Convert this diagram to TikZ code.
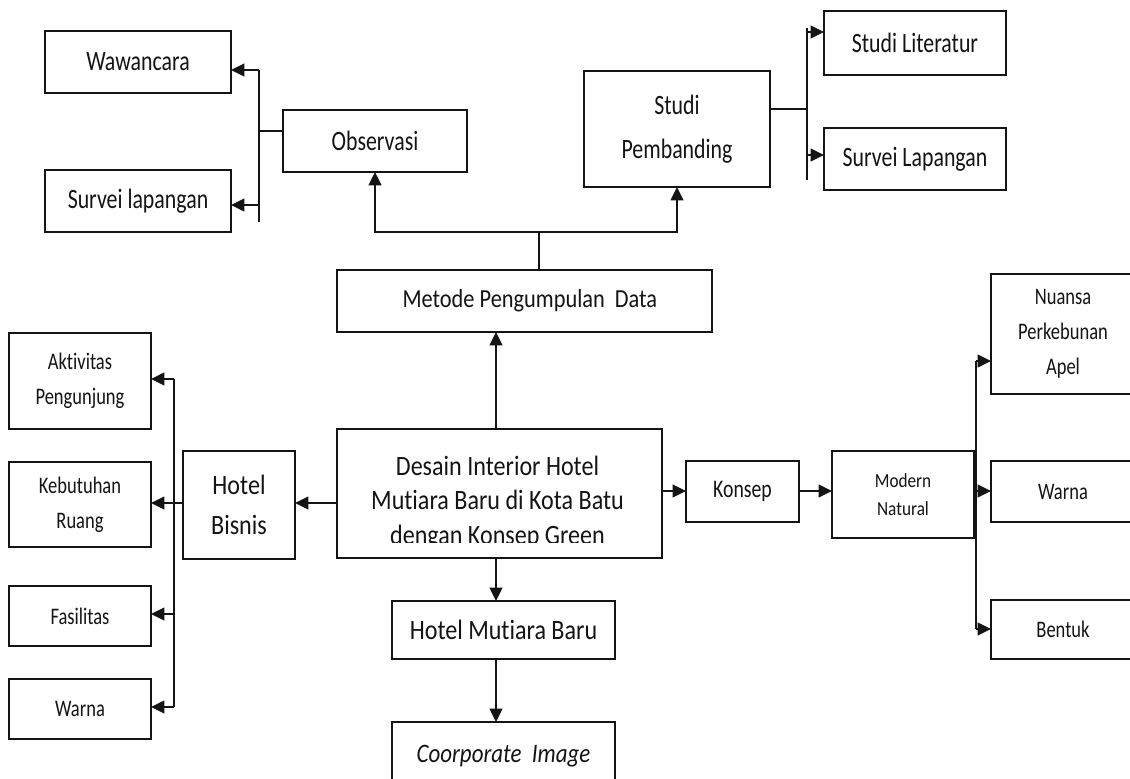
\documentclass[tikz,border=0pt]{standalone}
\usepackage{fontspec}
\setmainfont{Carlito}[RawFeature=-liga]
\newfontfamily\fA[FakeStretch=0.78,RawFeature=-liga]{Carlito}
\newfontfamily\fB[FakeStretch=0.86,RawFeature=-liga]{Carlito}
\usetikzlibrary{arrows.meta}
\definecolor{ink}{HTML}{141414}
\tikzset{
  box/.style={draw=ink, line width=1.2pt, inner sep=0pt, outer sep=0pt, align=center, text=ink},
  ln/.style={draw=ink, line width=1.2pt},
  arr/.style={ln, -{Triangle[length=10pt,width=9.5pt]}},
  bigA/.style={font=\fA\fontsize{21pt}{33pt}\selectfont},
  smA/.style={font=\fA\fontsize{17.8pt}{26.3pt}\selectfont},
  konA/.style={font=\fA\fontsize{19pt}{24pt}\selectfont},
  modB/.style={font=\fB\fontsize{15pt}{21pt}\selectfont},
  bisB/.style={font=\fB\fontsize{21pt}{30.5pt}\selectfont},
  metB/.style={font=\fB\fontsize{19.5pt}{24pt}\selectfont},
  mainB/.style={font=\fB\fontsize{21pt}{25.5pt}\selectfont, text=ink, inner sep=0pt},
  itB/.style={font=\fB\itshape\fontsize{20pt}{24pt}\selectfont, text=ink, inner sep=0pt}
}
\begin{document}
\begin{tikzpicture}[x=0.75pt,y=-0.75pt]
\useasboundingbox[fill=white] (0,0) rectangle (1130,778);

% top-left group
\node[box, minimum width=139.5pt, minimum height=46.5pt, bigA] (wawancara) at (138,62) {Wawancara};
\node[box, minimum width=139.5pt, minimum height=46.5pt, bigA] (survei1) at (138,201) {Survei lapangan};
\node[box, minimum width=138pt, minimum height=46.5pt, bigA] (observasi) at (375,141) {Observasi};

% top-right group
\node[box, minimum width=139.5pt, minimum height=87pt, bigA] (studip) at (677,129) {Studi\\Pembanding};
\node[box, minimum width=136.5pt, minimum height=48pt, bigA] (studilit) at (915,43) {Studi Literatur};
\node[box, minimum width=136.5pt, minimum height=46.5pt, bigA] (surveiL) at (915,159) {Survei Lapangan};

% metode
\node[box, minimum width=281.25pt, minimum height=46.5pt, metB] (metode) at (524.5,301) {\hspace*{8pt}Metode Pengumpulan~ Data};

% main
\node[box, minimum width=243.75pt, minimum height=96.75pt] (main) at (499.5,493.5) {};
\begin{scope}
  \clip (337,429) rectangle (662,542);
  \node[mainB, anchor=base] (mt1) at (497.5,475) {Desain Interior Hotel};
  \node[mainB, anchor=base] (mt2) at (497.5,509.3) {Mutiara Baru di Kota Batu};
  \node[mainB, anchor=base] (mt3) at (497.5,544) {dengan Konsep Green};
\end{scope}

% left group
\node[box, minimum width=84pt, minimum height=81pt, bisB] (bisnis) at (239,505) {Hotel\\Bisnis};
\node[box, minimum width=106.5pt, minimum height=72pt, smA] (aktivitas) at (80,381) {Aktivitas\\Pengunjung};
\node[box, minimum width=106.5pt, minimum height=63.75pt, smA] (kebutuhan) at (80,504.5) {Kebutuhan\\Ruang};
\node[box, minimum width=106.5pt, minimum height=45pt, smA] (fasilitas) at (80,616) {Fasilitas};
\node[box, minimum width=106.5pt, minimum height=45pt, smA] (warnaL) at (80,709) {Warna};

% bottom
\node[box, minimum width=167.25pt, minimum height=43.5pt, bisB] (hmb) at (503.5,630) {Hotel Mutiara Baru};
\node[box, minimum width=167.25pt, minimum height=60pt] (coorp) at (503.5,762) {};
\node[itB, anchor=base] (coorpt) at (503.5,762) {Coorporate~ Image};

% right group
\node[box, minimum width=84.75pt, minimum height=45.75pt, konA] (konsep) at (742.5,491.5) {Konsep};
\node[box, minimum width=106.5pt, minimum height=65.25pt, modB] (modern) at (903,494.5) {Modern\\Natural};
\node[box, minimum width=108pt, minimum height=90pt, smA] (nuansa) at (1063,334) {Nuansa\\Perkebunan\\Apel};
\node[box, minimum width=108pt, minimum height=45.75pt, smA] (warnaR) at (1063,491.5) {Warna};
\node[box, minimum width=108pt, minimum height=44.25pt, smA] (bentuk) at (1063,629.5) {Bentuk};

% ---- connectors ----
% observasi branch
\coordinate (oj) at (259,131);
\coordinate (otop) at (259,70);
\coordinate (obot) at (259,222);
\coordinate (o2) at (259,205);
\draw[ln] (observasi.west |- oj) -- (oj);
\draw[ln] (otop) -- (obot);
\draw[arr] (otop) -- (wawancara.east |- otop);
\draw[arr] (o2) -- (survei1.east |- o2);

% metode up to observasi / studi pembanding
\coordinate (mj) at (539,232);
\draw[ln] (metode.north -| mj) -- (mj);
\draw[arr] (mj) -| (observasi.south);
\draw[arr] (mj) -| (studip.south);

% studi pembanding branch
\coordinate (sj) at (807,109);
\coordinate (stop) at (807,28);
\coordinate (sbot) at (807,180);
\coordinate (s1) at (807,32);
\coordinate (s2) at (807,155);
\draw[ln] (studip.east |- sj) -- (sj);
\draw[ln] (stop) -- (sbot);
\draw[arr] (s1) -- (studilit.west |- s1);
\draw[arr] (s2) -- (surveiL.west |- s2);

% main vertical
\coordinate (cx) at (496,0);
\draw[arr] (main.north -| cx) -- (metode.south -| cx);
\draw[arr] (main.south -| cx) -- (hmb.north -| cx);
\draw[arr] (hmb.south -| cx) -- (coorp.north -| cx);

% main -> hotel bisnis -> left
\coordinate (by) at (0,503);
\draw[arr] (main.west |- by) -- (bisnis.east |- by);
\coordinate (lj) at (174,503);
\coordinate (lt) at (174,379);
\coordinate (lf) at (174,614);
\coordinate (lb) at (174,707);
\draw[ln] (bisnis.west |- by) -- (lj);
\draw[ln] (lt) -- (lb);
\draw[arr] (lt) -- (aktivitas.east |- lt);
\draw[arr] (lj) -- (kebutuhan.east |- lj);
\draw[arr] (lf) -- (fasilitas.east |- lf);
\draw[arr] (lb) -- (warnaL.east |- lb);

% main -> konsep -> modern -> right
\coordinate (ky) at (0,491);
\draw[arr] (main.east |- ky) -- (konsep.west |- ky);
\draw[arr] (konsep.east |- ky) -- (modern.west |- ky);
\coordinate (rj) at (976,491);
\coordinate (rt) at (976,361);
\coordinate (rb) at (976,629);
\draw[ln] (modern.east |- ky) -- (rj);
\draw[ln] (rt) -- (rb);
\draw[arr] (rt) -- (nuansa.west |- rt);
\draw[arr] (rj) -- (warnaR.west |- rj);
\draw[arr] (rb) -- (bentuk.west |- rb);
\end{tikzpicture}
\end{document}
